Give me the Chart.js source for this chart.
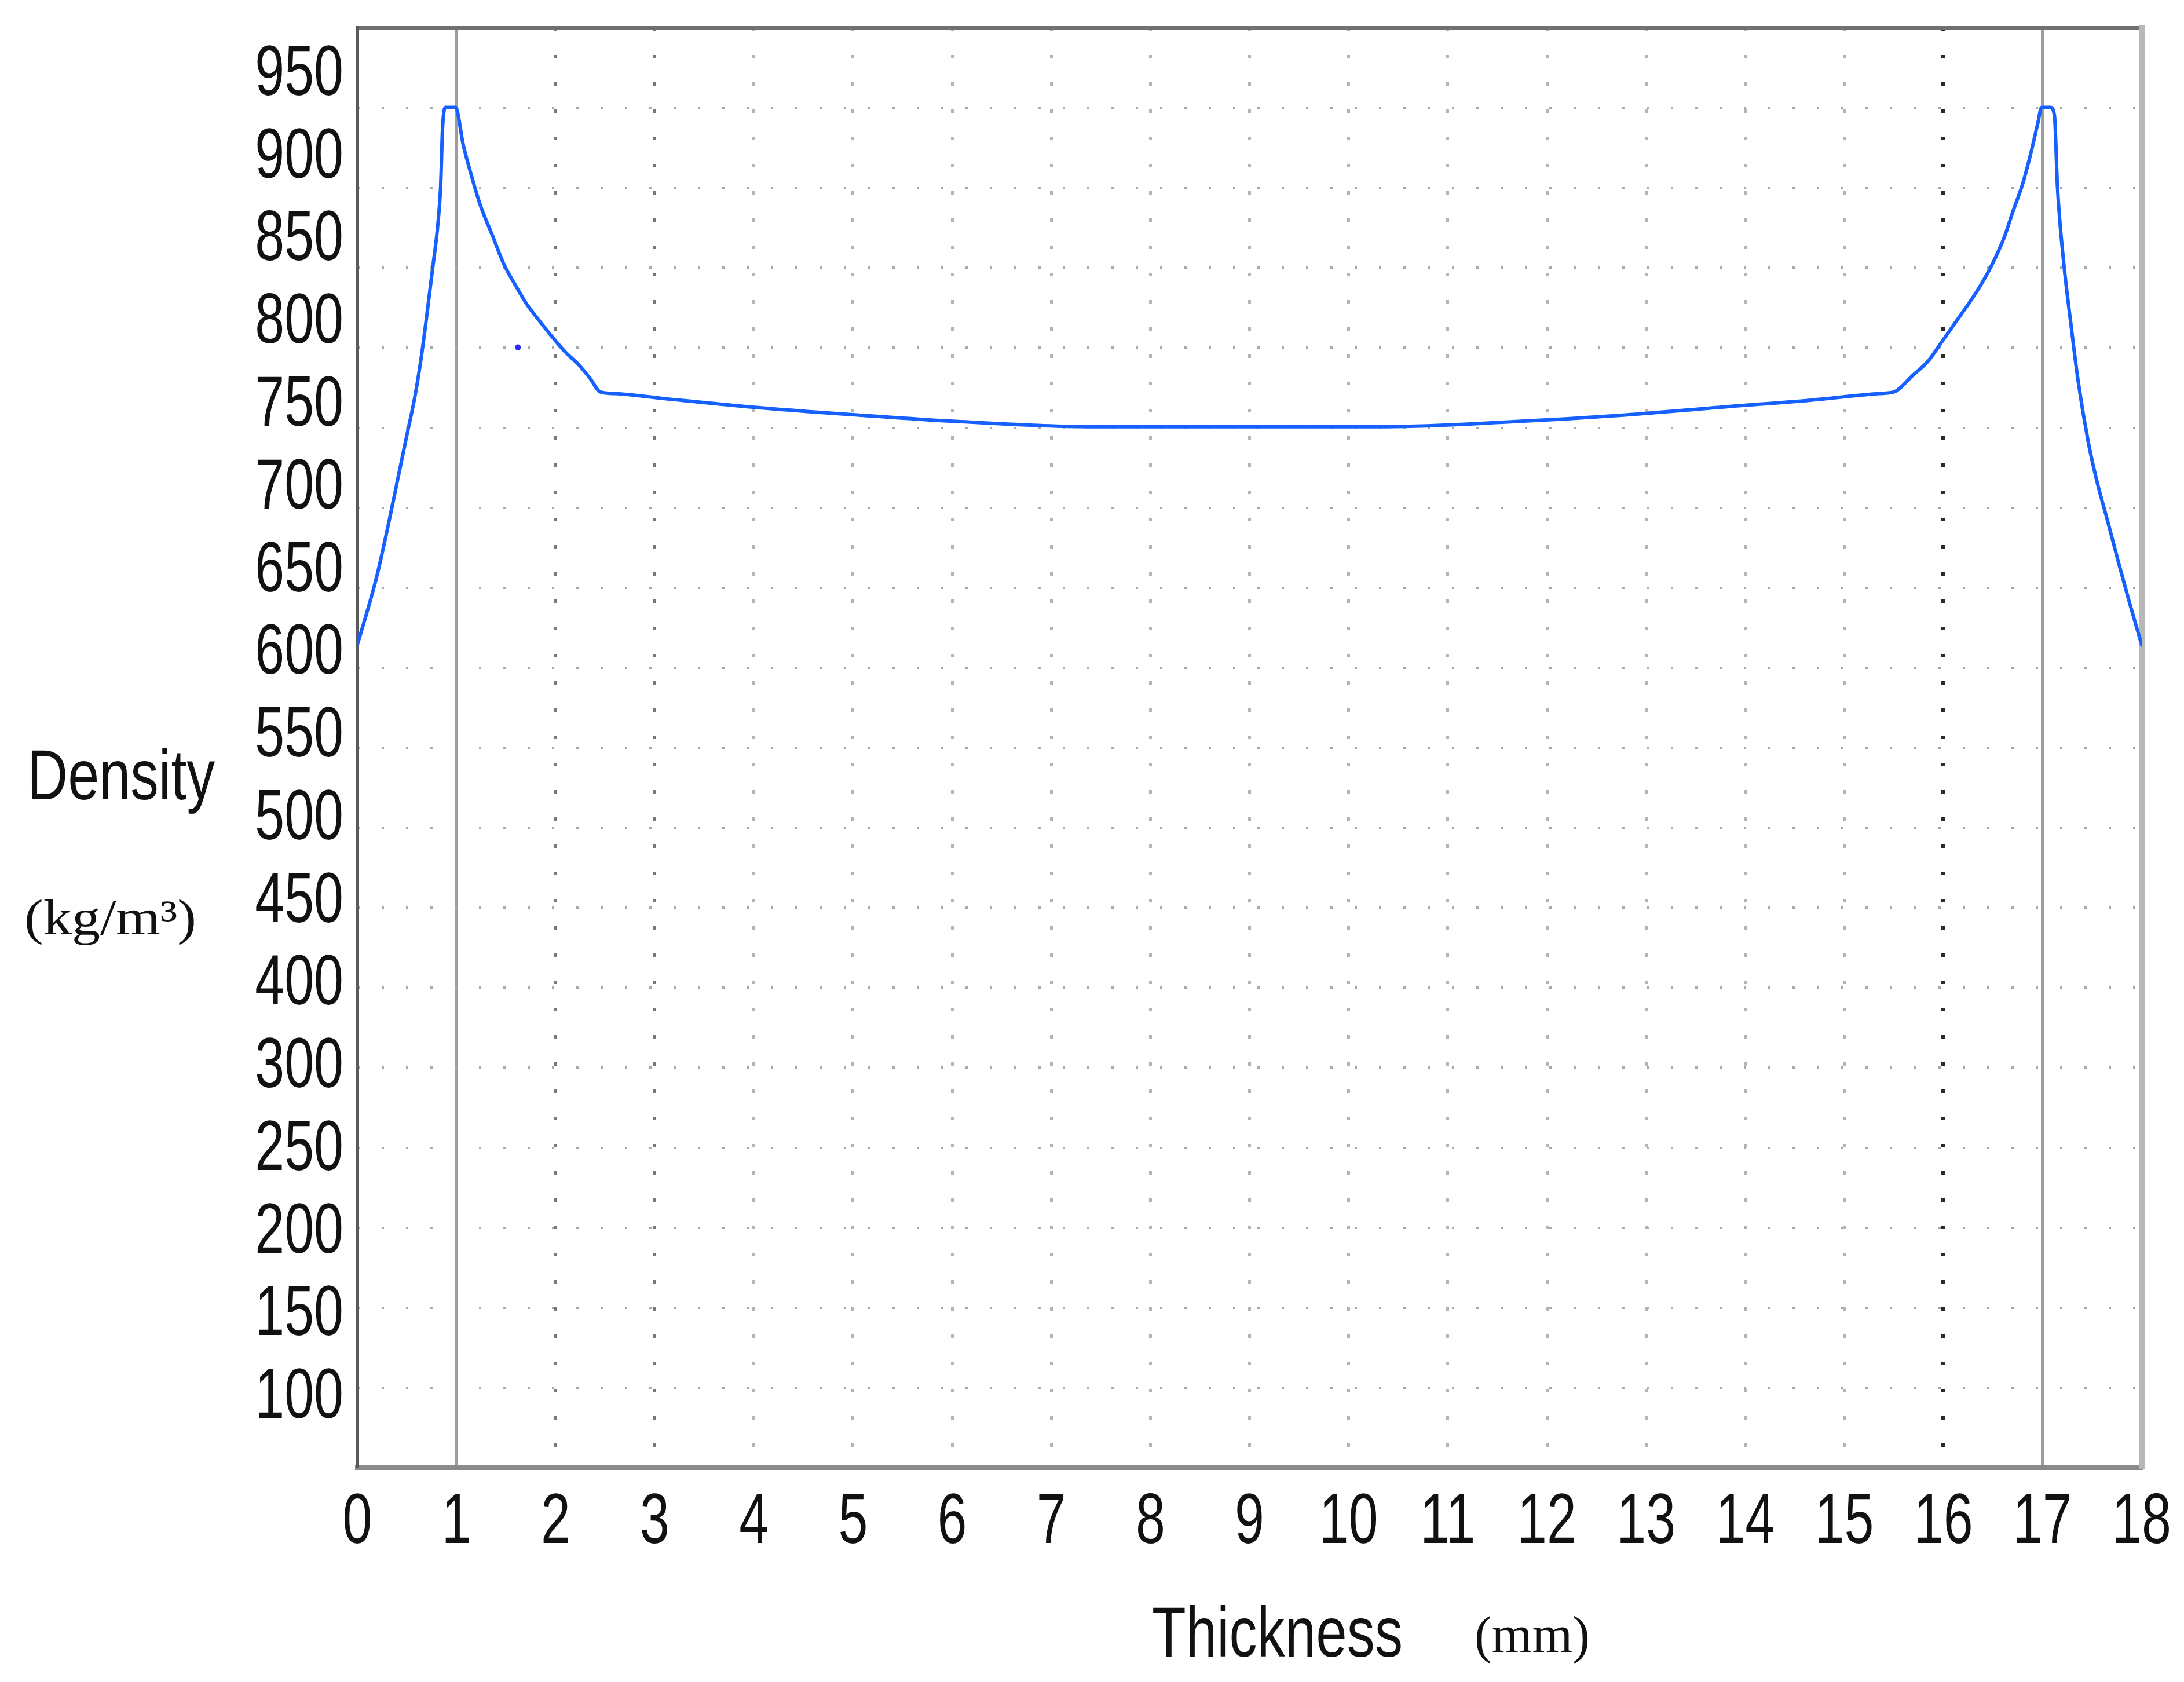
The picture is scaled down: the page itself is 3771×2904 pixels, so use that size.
<!DOCTYPE html>
<html>
<head>
<meta charset="utf-8">
<title>Density profile</title>
<script src="https://cdn.jsdelivr.net/npm/chart.js@4.4.1/dist/chart.umd.min.js"></script>
<style>
  html, body { margin: 0; padding: 0; background: #fff; }
  canvas { display: block; background: #fff; }
</style>
</head>
<body>
<canvas id="densityChart" width="3771" height="2904"></canvas>
<script>
// thickness (mm) / density (kg/m3)
const thickness = [
  0, 0.19, 0.31, 0.41, 0.50, 0.58, 0.64, 0.70, 0.76, 0.81, 0.84, 0.86, 0.89, 0.99,
  1.07, 1.15, 1.24, 1.36, 1.48, 1.60, 1.71, 1.85, 1.97, 2.10, 2.24, 2.35, 2.45,
  2.60, 3.09, 3.95, 5.06, 6.09, 7.37, 8.92, 10.37, 11.66, 12.77, 13.80, 14.66, 15.35, 15.50,
  15.69, 15.85, 15.98, 16.12, 16.25, 16.37, 16.49, 16.61, 16.70, 16.80, 16.88, 16.95, 16.99, 17.08,
  17.12, 17.15, 17.21, 17.29, 17.36, 17.46, 17.54, 17.66, 17.77, 17.87, 18
];
const density = [
  602, 642, 674, 703, 729, 752, 774, 801, 830, 855, 879, 915, 927, 927,
  904, 886, 868, 850, 832, 819, 808, 797, 788, 779, 771, 763, 755,
  754, 751, 746, 741, 737, 734, 734, 734, 737, 741, 746, 750, 754, 755,
  765, 774, 785, 797, 808, 819, 832, 848, 864, 881, 899, 917, 927, 927,
  922, 879, 835, 794, 761, 725, 703, 676, 651, 629, 602
];

// the lone blue dot near x = 1.6
const strayX = [1.62];
const strayY = [782];

// tick labels as printed (the original skips 350)
const yTickLabels = ['950', '900', '850', '800', '750', '700', '650', '600', '550',
  '500', '450', '400', '300', '250', '200', '150', '100'];
const xTickLabels = ['0', '1', '2', '3', '4', '5', '6', '7', '8', '9', '10',
  '11', '12', '13', '14', '15', '16', '17', '18'];

const sans = "'Liberation Sans Narrow', 'Liberation Sans', Arial, sans-serif";
const serif = "'Liberation Serif', 'Times New Roman', serif";
const clear = 'rgba(0,0,0,0)';
const ink = '#111';

// vertical grid: solid at 1 and 17, dotted elsewhere
function vColor(c) {
  const v = c.tick.value;
  if (v === 0 || v === 18) return clear;
  if (v === 1 || v === 17) return '#9c9c9c';
  if (v === 16) return '#2a2a2a';
  if (v === 2 || v === 3) return '#777';
  return '#b5b5b5';
}
function vWidth(c) {
  const v = c.tick.value;
  if (v === 1 || v === 17) return 6;
  if (v === 16) return 7;
  return 5;
}

// squeezed text, the original uses a narrow face we don't have
function putText(ctx, text, font, x, baseline, squeeze, align) {
  ctx.save();
  ctx.font = font;
  ctx.fillStyle = ink;
  ctx.textBaseline = 'alphabetic';
  ctx.textAlign = align;
  ctx.translate(x, baseline);
  ctx.scale(squeeze, 1);
  ctx.fillText(text, 0, 0);
  ctx.restore();
}
function fitText(ctx, text, font, left, baseline, width) {
  ctx.save();
  ctx.font = font;
  const w = ctx.measureText(text).width;
  ctx.restore();
  putText(ctx, text, font, left, baseline, width / w, 'left');
}

// tick labels taken from the scales, drawn condensed
const narrowTicks = {
  id: 'narrowTicks',
  afterDraw(chart) {
    const ctx = chart.ctx;
    const font = '122px ' + sans;
    const sy = chart.scales.y;
    sy.ticks.forEach((t, i) => {
      putText(ctx, t.label, font, sy.right - 24, sy.getPixelForTick(i) + 44, 0.75, 'right');
    });
    const sx = chart.scales.x;
    sx.ticks.forEach((t, i) => {
      putText(ctx, t.label, font, sx.getPixelForTick(i), sx.top + 130, 0.75, 'center');
    });
  }
};

// axis titles sit outside the scales, drawn in two fonts
const axisTitles = {
  id: 'axisTitles',
  afterDraw(chart) {
    const ctx = chart.ctx;
    fitText(ctx, 'Density', '122px ' + sans, 47, 1380, 324);
    fitText(ctx, '(kg/m\u00B3)', '86px ' + serif, 42, 1613, 297);
    fitText(ctx, 'Thickness', '122px ' + sans, 1989, 2860, 433);
    fitText(ctx, '(mm)', '92px ' + serif, 2546, 2853, 199);
  }
};

new Chart(document.getElementById('densityChart'), {
  type: 'line',
  data: {
    datasets: [{
      data: thickness.map((x, i) => ({ x: x, y: density[i] })),
      borderColor: '#1560ff',
      borderWidth: 6,
      pointRadius: 0,
      cubicInterpolationMode: 'monotone',
      fill: false,
      borderJoinStyle: 'round',
      borderCapStyle: 'round'
    }, {
      type: 'scatter',
      data: strayX.map((x, i) => ({ x: x, y: strayY[i] })),
      backgroundColor: '#2b2bff',
      borderWidth: 0,
      pointRadius: 5
    }]
  },
  plugins: [narrowTicks, axisTitles],
  options: {
    responsive: false,
    devicePixelRatio: 1,
    animation: false,
    layout: { padding: { top: 48, right: 73, left: 0, bottom: 0 } },
    plugins: {
      legend: { display: false },
      tooltip: { enabled: false }
    },
    scales: {
      x: {
        type: 'linear',
        position: 'bottom',
        min: 0,
        max: 18,
        grid: { drawTicks: false, color: vColor, lineWidth: vWidth },
        border: {
          color: '#8a8a8a',
          width: 8,
          dash: c => (c.type === 'tick' && c.tick.value !== 1 && c.tick.value !== 17) ? [6, 41] : []
        },
        ticks: {
          display: false,
          stepSize: 1,
          autoSkip: false,
          callback: v => xTickLabels[v] || ''
        },
        afterFit: s => { s.height = 370; s.paddingLeft = 0; s.paddingRight = 0; }
      },
      xTop: {
        type: 'linear',
        position: 'top',
        min: 0,
        max: 18,
        grid: { display: false, drawTicks: false },
        ticks: { display: false },
        border: { color: '#707070', width: 6 },
        afterFit: s => { s.height = 0; }
      },
      y: {
        type: 'linear',
        position: 'left',
        min: 104.5,
        max: 975.2,
        grid: { display: false, drawTicks: false },
        border: { color: '#5a5a5a', width: 6 },
        ticks: {
          display: false,
          stepSize: 50,
          includeBounds: false,
          autoSkip: false,
          callback: v => yTickLabels[Math.round((950 - v) / 50)] || ''
        },
        afterFit: s => { s.width = 617; s.paddingTop = 0; s.paddingBottom = 0; }
      },
      yGrid: {
        type: 'linear',
        position: 'right',
        min: 0,
        max: 18,
        grid: {
          drawTicks: false,
          lineWidth: 4,
          color: c => (c.tick.value === 0 || c.tick.value === 18) ? clear : '#a8a8a8'
        },
        border: {
          color: '#b8b8b8',
          width: 9,
          dash: c => c.type === 'tick' ? [4, 38] : []
        },
        ticks: { display: false, stepSize: 1 },
        afterFit: s => { s.width = 0; s.paddingTop = 0; s.paddingBottom = 0; }
      }
    }
  }
});
</script>
</body>
</html>
